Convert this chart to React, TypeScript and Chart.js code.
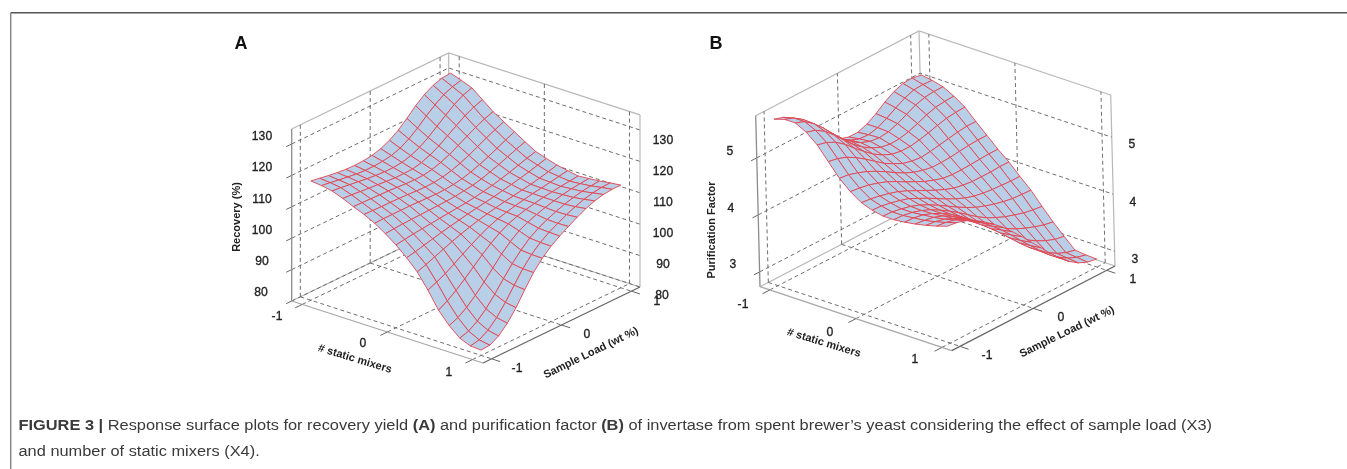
import React, { useEffect, useRef } from "react";
import { Chart, registerables } from "chart.js";

Chart.register(...registerables);

const mixerTicks = [-1, 0, 1];
const loadTicks = [-1, 0, 1];
const recoveryTicks = [80, 90, 100, 110, 120, 130];
const purificationTicks = [3, 4, 5];

// rows: # static mixers from -1 to 1; columns: sample load from -1 to 1
const recoverySurface = [
  [118,117.5,117,116.6,116.3,116.2,116.3,116.7,117.5,118.8,120.7,123.1,125.8,128,129.6,130.5,130.8],
  [117.6,117.2,116.7,116.3,115.9,115.7,115.7,115.9,116.4,117.4,119,121.1,123.6,125.8,127.7,128.9,129.6],
  [117,116.7,116.3,115.9,115.5,115.2,115,115,115.3,116.1,117.4,119.2,121.4,123.6,125.7,127.3,128.3],
  [115.7,115.5,115.2,114.9,114.7,114.4,114.2,114.2,114.3,115,116.1,117.6,119.5,121.4,123.2,124.6,125.6],
  [114.2,114.1,114,113.9,113.8,113.6,113.4,113.3,113.4,113.9,114.8,116,117.5,119.1,120.6,121.9,122.9],
  [112.8,112.7,112.6,112.6,112.5,112.4,112.2,112.1,112.2,112.6,113.3,114.3,115.5,116.9,118.3,119.6,120.8],
  [111.1,111.2,111.2,111.2,111.2,111.1,111,110.9,111,111.3,111.8,112.6,113.6,114.8,116.1,117.4,118.7],
  [108.9,109.1,109.3,109.4,109.5,109.6,109.7,109.8,110,110.4,110.8,111.5,112.4,113.4,114.5,115.6,116.6],
  [106.4,106.8,107.2,107.5,107.8,108.1,108.4,108.7,109,109.4,109.9,110.5,111.2,112,112.9,113.8,114.6],
  [103.4,104,104.7,105.4,106.1,106.7,107.3,107.9,108.4,108.9,109.4,110,110.6,111.2,111.9,112.7,113.5],
  [100,101,102.1,103.2,104.3,105.3,106.2,107,107.7,108.3,108.9,109.4,109.9,110.4,111,111.7,112.5],
  [95.3,96.5,97.9,99.6,101.4,103.1,104.7,106.1,107.2,108,108.7,109.3,109.9,110.3,110.8,111.3,111.8],
  [90,91.6,93.6,95.9,98.4,100.9,103.2,105.2,106.7,107.8,108.6,109.2,109.8,110.2,110.6,110.9,111.2],
  [86.2,87.4,89.3,91.8,94.7,97.8,100.9,103.5,105.6,107,108.1,109,109.8,110.4,110.9,111.2,111.5],
  [83.3,84.2,86,88.6,91.9,95.5,98.9,101.9,104.4,106.2,107.6,108.8,109.8,110.6,111.2,111.6,111.8],
  [81.9,82.5,84.2,86.9,90.4,94.5,98.4,101.6,104.1,106,107.5,108.9,110.1,111.1,111.8,112.2,112.3],
  [81.7,81.9,83.5,86.2,89.8,94.2,98.3,101.5,104,105.9,107.6,109.2,110.6,111.7,112.4,112.7,112.7],
];

const purificationSurface = [
  [5.66,5.61,5.50,5.33,5.14,4.96,4.82,4.73,4.68,4.68,4.74,4.84,4.96,5.06,5.12,5.13,5.10],
  [5.72,5.66,5.55,5.38,5.19,5.01,4.87,4.77,4.71,4.70,4.74,4.82,4.92,5.01,5.07,5.08,5.07],
  [5.72,5.66,5.54,5.38,5.20,5.03,4.89,4.79,4.73,4.71,4.73,4.79,4.87,4.95,5.00,5.02,5.02],
  [5.62,5.57,5.47,5.32,5.15,4.99,4.86,4.76,4.69,4.66,4.67,4.71,4.77,4.84,4.89,4.91,4.92],
  [5.46,5.42,5.34,5.22,5.07,4.93,4.80,4.70,4.63,4.60,4.60,4.63,4.67,4.72,4.76,4.78,4.79],
  [5.23,5.20,5.14,5.05,4.94,4.82,4.70,4.61,4.53,4.49,4.47,4.49,4.52,4.55,4.58,4.60,4.60],
  [5.00,4.98,4.93,4.87,4.79,4.70,4.60,4.51,4.44,4.39,4.36,4.36,4.37,4.39,4.41,4.42,4.42],
  [4.83,4.81,4.78,4.73,4.67,4.59,4.50,4.42,4.34,4.28,4.23,4.21,4.21,4.22,4.23,4.24,4.24],
  [4.70,4.68,4.65,4.61,4.56,4.49,4.41,4.33,4.25,4.18,4.12,4.09,4.07,4.07,4.07,4.08,4.08],
  [4.63,4.62,4.59,4.55,4.50,4.42,4.34,4.25,4.16,4.08,4.01,3.96,3.93,3.91,3.90,3.89,3.89],
  [4.59,4.58,4.55,4.51,4.45,4.37,4.28,4.18,4.08,3.99,3.91,3.85,3.80,3.76,3.73,3.72,3.71],
  [4.59,4.58,4.55,4.50,4.43,4.34,4.24,4.13,4.01,3.89,3.79,3.71,3.64,3.59,3.54,3.51,3.49],
  [4.61,4.60,4.57,4.51,4.43,4.33,4.21,4.08,3.94,3.80,3.68,3.58,3.49,3.42,3.36,3.31,3.28],
  [4.64,4.62,4.59,4.53,4.44,4.33,4.20,4.06,3.91,3.75,3.61,3.48,3.36,3.26,3.18,3.12,3.09],
  [4.68,4.66,4.62,4.55,4.45,4.33,4.19,4.04,3.88,3.71,3.54,3.38,3.24,3.12,3.02,2.95,2.91],
  [4.73,4.71,4.67,4.59,4.49,4.37,4.23,4.08,3.91,3.73,3.56,3.39,3.23,3.10,3.00,2.93,2.89],
  [4.79,4.77,4.72,4.64,4.53,4.41,4.27,4.11,3.94,3.76,3.58,3.40,3.23,3.09,2.98,2.91,2.88],
];

const captionLine1 = [
  ["FIGURE 3 | ", true],
  ["Response surface plots for recovery yield ", false],
  ["(A)", true],
  [" and purification factor ", false],
  ["(B)", true],
  [" of invertase from spent brewer\u2019s yeast considering the effect of sample load (X3)", false],
] as [string, boolean][];
const captionLine2 = "and number of static mixers (X4).";

type Panel = {
  cx: number; cy: number; ux: number; uy: number; vx: number; vy: number; zx: number; zy: number;
  zMin: number; zMax: number; s: number; surface: number[][]; zTicks: number[];
};

const panelA: Panel = {
  cx: 465.85, cy: 294, ux: 95.65, uy: 31, vx: 78.5, vy: -38, zx: 0, zy: -3.14,
  zMin: 80, zMax: 134.8, s: 0.89, surface: recoverySurface, zTicks: recoveryTicks,
};
const panelB: Panel = {
  cx: 937.5, cy: 276.35, ux: 95.85, uy: 32, vx: 81.65, vy: -42.35, zx: -1.43, zy: -57,
  zMin: 2.74, zMax: 5.74, s: 0.898, surface: purificationSurface, zTicks: purificationTicks,
};

const project = (p: Panel, a: number, b: number, z: number) => ({
  x: p.cx + a * p.ux + b * p.vx + (z - p.zMin) * p.zx,
  y: p.cy + a * p.uy + b * p.vy + (z - p.zMin) * p.zy,
});

const SURFACE_FILL = "#b9cfe8";
const SURFACE_LINE = "#e2444f";
const DASH = "#6e6e6e";
const BOX = "#b8b8b8";

function line(points: { x: number; y: number }[], color: string, width: number, dash: number[] = []) {
  return {
    data: points, showLine: true, borderColor: color, borderWidth: width, borderDash: dash,
    pointRadius: 0, fill: false, tension: 0, backgroundColor: "transparent",
  };
}

function panelDatasets(p: Panel) {
  const out: any[] = [];
  const { s, zMin: z0, zMax: z1 } = p;
  const P = (a: number, b: number, z: number) => project(p, a, b, z);
  out.push(line([P(-1, -1, z1), P(-1, 1, z1), P(1, 1, z1)], BOX, 1.2));
  out.push(line([P(-1, -1, z0), P(-1, 1, z0), P(1, 1, z0)], BOX, 1.2));
  out.push(line([P(-1, 1, z0), P(-1, 1, z1)], BOX, 1.2));
  out.push(line([P(1, 1, z0), P(1, 1, z1)], BOX, 1.2));
  const dash = [4, 3];
  for (const t of loadTicks) {
    out.push(line([P(-1, t * s, z0), P(-1, t * s, z1)], DASH, 1, dash));
    out.push(line([P(-1, t * s, z0), P(1, t * s, z0)], DASH, 1, dash));
  }
  for (const t of mixerTicks) {
    out.push(line([P(t * s, 1, z0), P(t * s, 1, z1)], DASH, 1, dash));
    out.push(line([P(t * s, -1, z0), P(t * s, 1, z0)], DASH, 1, dash));
  }
  for (const z of p.zTicks) {
    out.push(line([P(-1, -1, z), P(-1, 1, z), P(1, 1, z)], DASH, 1, dash));
    out.push(line([P(-1, -1, z), P(-1, -1.07, z)], "#666", 1));
  }
  out.push(line([P(-1, -1, z0), P(-1, -1, z1)], "#8c8c8c", 1.3));
  out.push(line([P(-1, -1, z0), P(1, -1, z0)], "#a8a8a8", 1.3));
  out.push(line([P(1, -1, z0), P(1, 1, z0)], "#666", 1.3));
  for (const t of mixerTicks) out.push(line([P(t * s, -1, z0), P(t * s, -1.09, z0)], "#666", 1));
  for (const t of loadTicks) out.push(line([P(1, t * s, z0), P(1.09, t * s, z0)], "#666", 1));
  const n = p.surface.length - 1;
  const coord = (i: number) => (-1 + (2 * i) / n) * s;
  for (let i = 0; i < n; i++) {
    for (let j = n - 1; j >= 0; j--) {
      const S = p.surface;
      const pts = [
        P(coord(i), coord(j), S[i][j]),
        P(coord(i + 1), coord(j), S[i + 1][j]),
        P(coord(i + 1), coord(j + 1), S[i + 1][j + 1]),
        P(coord(i), coord(j + 1), S[i][j + 1]),
        P(coord(i), coord(j), S[i][j]),
      ];
      out.push({
        data: pts, showLine: true, fill: "shape", backgroundColor: SURFACE_FILL,
        borderColor: SURFACE_LINE, borderWidth: 0.9, pointRadius: 0, tension: 0,
      });
    }
  }
  return out;
}

type Label = { text: string; x: number; y: number; size: number; bold?: boolean; rot?: number; color?: string };

const labels: Label[] = [
  { text: "A", x: 241, y: 44, size: 18, bold: true, color: "#111" },
  { text: "B", x: 716, y: 44, size: 18, bold: true, color: "#111" },
  { text: "130", x: 262, y: 136, size: 12 }, { text: "120", x: 262, y: 167, size: 12 },
  { text: "110", x: 262, y: 199, size: 12 }, { text: "100", x: 262, y: 230, size: 12 },
  { text: "90", x: 262, y: 261, size: 12 }, { text: "80", x: 261, y: 292, size: 12 },
  { text: "130", x: 663, y: 140, size: 12 }, { text: "120", x: 663, y: 171, size: 12 },
  { text: "110", x: 663, y: 202, size: 12 }, { text: "100", x: 663, y: 233, size: 12 },
  { text: "90", x: 663, y: 264, size: 12 }, { text: "80", x: 662, y: 295, size: 12 },
  { text: "1", x: 657, y: 301, size: 12 }, { text: "0", x: 587, y: 334, size: 12 }, { text: "-1", x: 517, y: 368, size: 12 },
  { text: "-1", x: 277, y: 316, size: 12 }, { text: "0", x: 363, y: 343, size: 12 }, { text: "1", x: 449, y: 372, size: 12 },
  { text: "# static mixers", x: 355, y: 359, size: 11, rot: 17, bold: true },
  { text: "Sample Load (wt %)", x: 591, y: 353, size: 11, rot: -26, bold: true },
  { text: "Recovery (%)", x: 237, y: 217, size: 11, rot: -90, bold: true },
  { text: "5", x: 730, y: 151, size: 12 }, { text: "4", x: 731, y: 208, size: 12 }, { text: "3", x: 733, y: 264, size: 12 },
  { text: "5", x: 1132, y: 144, size: 12 }, { text: "4", x: 1133, y: 202, size: 12 }, { text: "3", x: 1135, y: 259, size: 12 },
  { text: "1", x: 1133, y: 279, size: 12 }, { text: "0", x: 1061, y: 317, size: 12 }, { text: "-1", x: 987, y: 355, size: 12 },
  { text: "-1", x: 743, y: 304, size: 12 }, { text: "0", x: 830, y: 332, size: 12 }, { text: "1", x: 915, y: 359, size: 12 },
  { text: "# static mixers", x: 824, y: 343, size: 11, rot: 17, bold: true },
  { text: "Sample Load (wt %)", x: 1067, y: 332, size: 11, rot: -26, bold: true },
  { text: "Purification Factor", x: 712, y: 230, size: 11, rot: -90, bold: true },
];

const textPlugin = {
  id: "figureText",
  afterDraw(chart: any) {
    const { ctx, scales } = chart;
    const X = (v: number) => scales.x.getPixelForValue(v);
    const Y = (v: number) => scales.y.getPixelForValue(v);
    ctx.save();
    ctx.strokeStyle = "#555";
    ctx.lineWidth = 1.5;
    ctx.beginPath();
    ctx.moveTo(X(1347), Y(12.7));
    ctx.lineTo(X(10.7), Y(12.7));
    ctx.stroke();
    ctx.strokeStyle = "#888";
    ctx.beginPath();
    ctx.moveTo(X(10.7), Y(12.7));
    ctx.lineTo(X(10.7), Y(469));
    ctx.stroke();
    ctx.textAlign = "center";
    ctx.textBaseline = "middle";
    for (const l of labels) {
      ctx.save();
      ctx.translate(X(l.x), Y(l.y));
      if (l.rot) ctx.rotate((l.rot * Math.PI) / 180);
      const tick = !l.bold;
      if (tick) ctx.scale(0.9, 1);
      ctx.font = `${l.bold ? "bold " : ""}${tick ? 13.5 : l.size}px "Liberation Sans"`;
      ctx.fillStyle = l.color || "#222";
      ctx.fillText(l.text, 0, 0);
      if (tick) {
        ctx.strokeStyle = "#222";
        ctx.lineWidth = 0.35;
        ctx.strokeText(l.text, 0, 0);
      }
      ctx.restore();
    }
    ctx.textAlign = "left";
    ctx.textBaseline = "alphabetic";
    ctx.fillStyle = "#3a3a3a";
    const size = 15.5;
    const font = (b: boolean) => `${b ? "bold " : ""}${size}px "Liberation Sans"`;
    let total = 0;
    for (const [t, b] of captionLine1) { ctx.font = font(b); total += ctx.measureText(t).width; }
    const k = 1193.5 / total;
    ctx.save();
    ctx.translate(X(18.5), Y(430));
    ctx.scale(k, 1);
    let cur = 0;
    for (const [t, b] of captionLine1) { ctx.font = font(b); ctx.fillText(t, cur, 0); cur += ctx.measureText(t).width; }
    ctx.restore();
    ctx.save();
    ctx.translate(X(18.5), Y(455.5));
    ctx.scale(k, 1);
    ctx.font = font(false);
    ctx.fillText(captionLine2, 0, 0);
    ctx.restore();
    ctx.restore();
  },
};

export default function App() {
  const ref = useRef<HTMLCanvasElement>(null);
  useEffect(() => {
    if (!ref.current) return;
    const datasets = [...panelDatasets(panelA), ...panelDatasets(panelB)].reverse();
    const chart = new Chart(ref.current, {
      type: "scatter",
      data: { datasets },
      options: {
        animation: false,
        responsive: false,
        layout: { padding: 0 },
        events: [],
        plugins: { legend: { display: false }, tooltip: { enabled: false }, title: { display: false } },
        scales: {
          x: { type: "linear", min: 0, max: 1347, display: false },
          y: { type: "linear", min: 0, max: 469, reverse: true, display: false },
        },
      },
      plugins: [textPlugin],
    } as any);
    return () => chart.destroy();
  }, []);
  return (
    <div style={{ position: "absolute", left: 0, top: 0, width: 1347, height: 469, background: "#fff" }}>
      <canvas ref={ref} width={1347} height={469} style={{ display: "block" }} />
    </div>
  );
}
